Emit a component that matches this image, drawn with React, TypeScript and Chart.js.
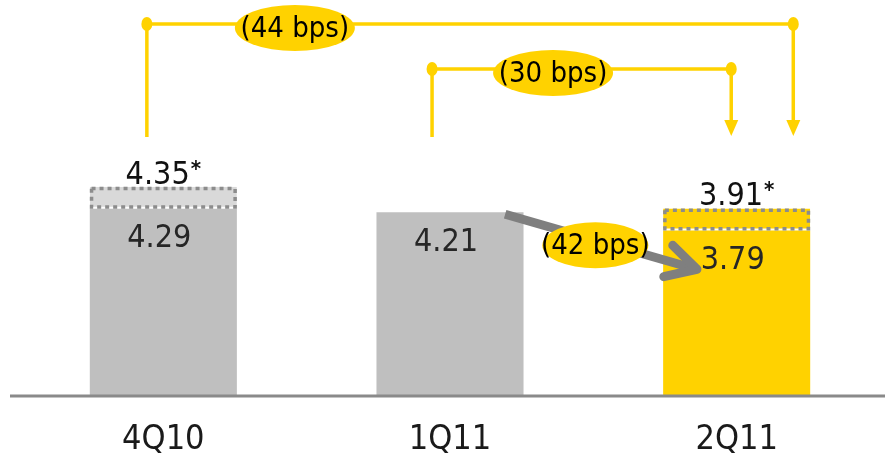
import React, { useEffect, useRef } from "react";
import { Chart, registerables } from "chart.js";

Chart.register(...registerables);

// ---- data ----
const categories = ["4Q10", "1Q11", "2Q11"];
const reported = [4.29, 4.21, 3.79];
const adjusted: (number | null)[] = [4.35, null, 3.91];
const reportedLabels = ["4.29", "4.21", "3.79"];
const adjustedLabels: (string | null)[] = ["4.35", null, "3.91"];
const bracketLabels = ["(44 bps)", "(30 bps)"];
const arrowLabel = "(42 bps)";

const adjustment = adjusted.map((a, i) => (a == null ? null : +(a - reported[i]).toFixed(2)));

const YELLOW = "#ffd200";
const GRAY = "#bfbfbf";
const LIGHT = "#d9d9d9";
const FONT = '"Liberation Sans Narrow", "DejaVu Sans Condensed", "Arial Narrow", sans-serif';

const annotate = {
  id: "annotate",
  afterDatasetsDraw(chart: any) {
    const ctx = chart.ctx as CanvasRenderingContext2D;
    const area = chart.chartArea;
    const xs = chart.scales.x;
    const m0 = chart.getDatasetMeta(0);
    const m1 = chart.getDatasetMeta(1);
    ctx.save();

    // baseline
    ctx.strokeStyle = "#8a8a8a";
    ctx.lineWidth = 3;
    ctx.beginPath();
    ctx.moveTo(area.left - 10, area.bottom + 1);
    ctx.lineTo(chart.width, area.bottom + 1);
    ctx.stroke();

    // dotted boxes
    m1.data.forEach((el: any, i: number) => {
      if (adjusted[i] == null) return;
      const p = el.getProps(["x", "y", "base", "width"], true);
      ctx.setLineDash([4, 4]);
      ctx.lineWidth = 3.5;
      ctx.strokeStyle = "#8c8c8c";
      ctx.strokeRect(p.x - p.width / 2 + 1.75, p.y + 1.75, p.width - 3.5, p.base - p.y - 3.5);
      ctx.setLineDash([]);
      // label above
      const t = adjustedLabels[i] as string;
      ctx.font = `32px ${FONT}`;
      const w = ctx.measureText(t).width;
      ctx.font = `bold 22px ${FONT}`;
      const aw = ctx.measureText("*").width;
      const sx = p.x - (w + aw + 1) / 2;
      ctx.fillStyle = "#111";
      ctx.textAlign = "left";
      ctx.textBaseline = "alphabetic";
      ctx.font = `32px ${FONT}`;
      ctx.fillText(t, sx, p.y - 3);
      ctx.font = `bold 22px ${FONT}`;
      ctx.fillText("*", sx + w + 1, p.y - 11);
    });

    // inner value labels
    m0.data.forEach((el: any, i: number) => {
      const p = el.getProps(["x", "y"], true);
      ctx.font = `32px ${FONT}`;
      ctx.fillStyle = "#262626";
      ctx.textAlign = "center";
      ctx.textBaseline = "middle";
      ctx.fillText(reportedLabels[i], p.x - 4, p.y + 30);
    });

    const bw = m0.data[0].getProps(["width"], true).width;
    const c0 = xs.getPixelForValue(0);
    const c1 = xs.getPixelForValue(1);
    const c2 = xs.getPixelForValue(2);

    const ellipseLabel = (cx: number, cy: number, rx: number, ry: number, text: string) => {
      ctx.fillStyle = YELLOW;
      ctx.beginPath();
      ctx.ellipse(cx, cy, rx, ry, 0, 0, Math.PI * 2);
      ctx.fill();
      ctx.fillStyle = "#000";
      ctx.font = `29px ${FONT}`;
      ctx.textAlign = "center";
      ctx.textBaseline = "middle";
      ctx.fillText(text, cx, cy + 1);
    };

    const bracket = (lx: number, rx: number, ty: number, label: string, labelX: number, ey: number) => {
      ctx.strokeStyle = YELLOW;
      ctx.fillStyle = YELLOW;
      ctx.lineWidth = 3.5;
      ctx.beginPath();
      ctx.moveTo(lx, 137);
      ctx.lineTo(lx, ty);
      ctx.lineTo(rx, ty);
      ctx.lineTo(rx, 122);
      ctx.stroke();
      [lx, rx].forEach((x) => {
        ctx.beginPath();
        ctx.ellipse(x, ty, 5.5, 7, 0, 0, Math.PI * 2);
        ctx.fill();
      });
      ctx.beginPath();
      ctx.moveTo(rx - 7, 120);
      ctx.lineTo(rx + 7, 120);
      ctx.lineTo(rx, 136);
      ctx.closePath();
      ctx.fill();
      ellipseLabel(labelX, ey, 60, 23, label);
    };

    const l44 = c0 - 0.112 * bw;
    const r44 = c2 + 0.385 * bw;
    const l30 = c1 - 0.122 * bw;
    const r30 = c2 - 0.037 * bw;
    bracket(l44, r44, 24, bracketLabels[0], l44 + 148, 28);
    bracket(l30, r30, 69, bracketLabels[1], l30 + 121, 73);

    // gray arrow
    const top1 = m0.data[1].getProps(["y"], true).y;
    const sx = c1 + 0.375 * bw;
    const sy = top1 + 2;
    const tx = c2 - 0.27 * bw;
    const ty = top1 + 57;
    ctx.strokeStyle = "#7f7f7f";
    ctx.lineWidth = 9;
    ctx.lineCap = "butt";
    ctx.beginPath();
    ctx.moveTo(sx, sy);
    ctx.lineTo(tx - 4, ty - 1);
    ctx.stroke();
    const ang = Math.atan2(ty - sy, tx - sx);
    ctx.lineCap = "round";
    ctx.lineJoin = "round";
    ctx.beginPath();
    ctx.moveTo(tx - 34 * Math.cos(ang - 0.5), ty - 34 * Math.sin(ang - 0.5));
    ctx.lineTo(tx, ty);
    ctx.lineTo(tx - 34 * Math.cos(ang + 0.5), ty - 34 * Math.sin(ang + 0.5));
    ctx.stroke();

    ellipseLabel((c1 + c2) / 2 + 2, top1 + 33, 53, 23, arrowLabel);

    ctx.restore();
  },
};

export default function App() {
  const ref = useRef<HTMLCanvasElement | null>(null);
  useEffect(() => {
    if (!ref.current) return;
    const chart = new Chart(ref.current, {
      type: "bar",
      data: {
        labels: categories,
        datasets: [
          {
            label: "Reported",
            data: reported,
            backgroundColor: [GRAY, GRAY, YELLOW],
            barPercentage: 0.513,
            categoryPercentage: 1,
            stack: "s",
          },
          {
            label: "Adjusted",
            data: adjustment,
            backgroundColor: [LIGHT, "rgba(0,0,0,0)", YELLOW],
            borderColor: "#ffffff",
            borderWidth: { top: 0, left: 0, right: 0, bottom: 2 } as any,
            borderSkipped: false,
            minBarLength: 22,
            barPercentage: 0.513,
            categoryPercentage: 1,
            stack: "s",
          },
        ],
      },
      options: {
        responsive: false,
        animation: false,
        layout: { padding: { left: 20, right: 5, top: 0, bottom: 0 } },
        plugins: { legend: { display: false }, tooltip: { enabled: false } },
        scales: {
          x: {
            stacked: true,
            grid: { display: false, drawTicks: false },
            border: { display: false },
            afterFit(scale: any) {
              scale.height = 61;
            },
            ticks: {
              color: "#1a1a1a",
              padding: 28,
              font: { family: FONT, size: 34, lineHeight: 1 },
            },
          },
          y: {
            stacked: true,
            display: false,
            min: 0,
            max: 9.1,
          },
        },
      },
      plugins: [annotate],
    });
    return () => chart.destroy();
  }, []);
  return (
    <div style={{ position: "absolute", left: 0, top: 0, width: 885, height: 456, background: "#fff" }}>
      <canvas ref={ref} width={885} height={456} />
    </div>
  );
}
